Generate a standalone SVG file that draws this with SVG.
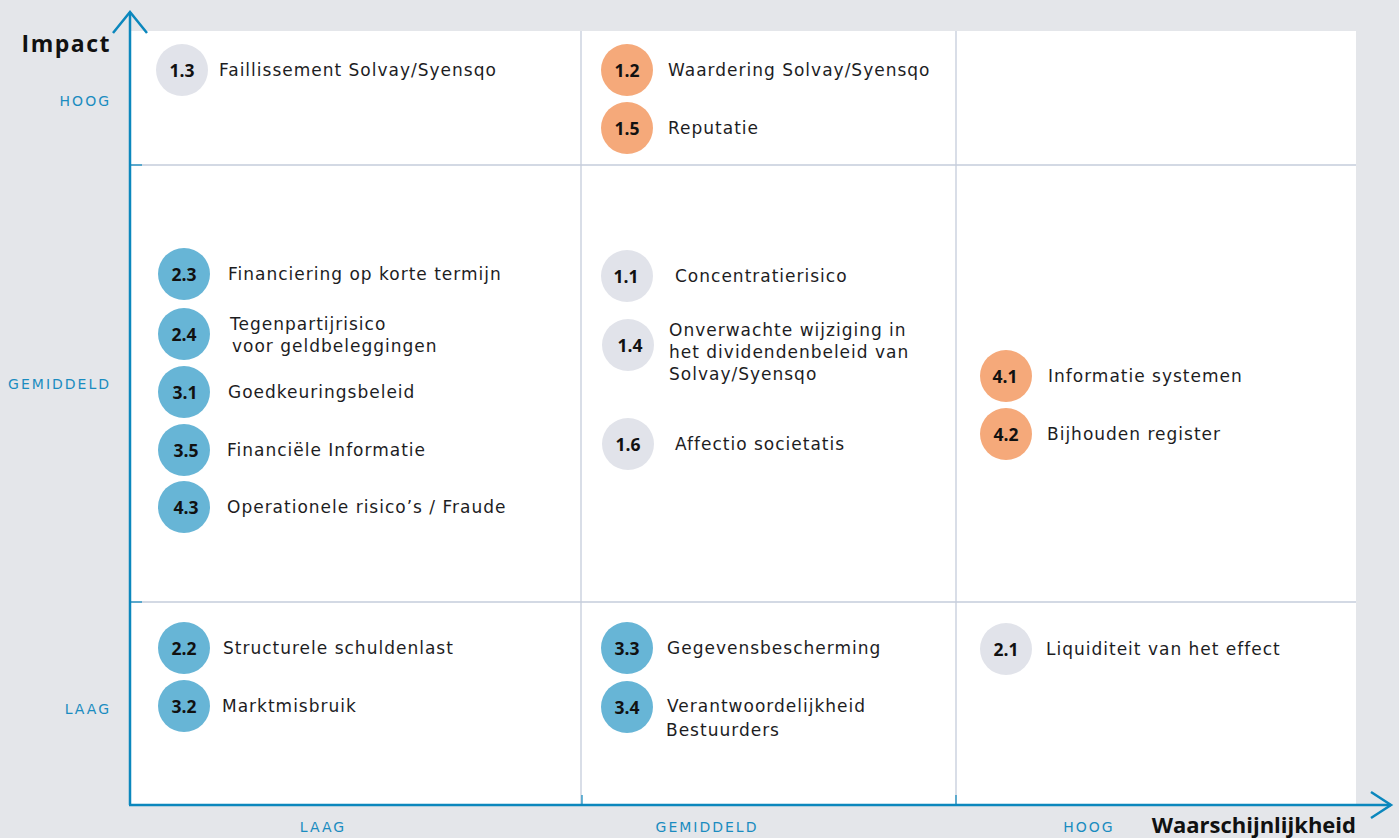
<svg xmlns="http://www.w3.org/2000/svg" width="1399" height="838" viewBox="0 0 1399 838">
<style>
.lbl{font-family:"DejaVu Sans","Open Sans",sans-serif;font-size:17px;letter-spacing:1px;fill:#1d1d1f;dominant-baseline:central}
.num{font-family:"Open Sans","Noto Sans",sans-serif;font-size:17.5px;font-weight:700;fill:#111;text-anchor:middle;dominant-baseline:central}
.ax{font-family:"DejaVu Sans","Open Sans",sans-serif;font-size:14px;letter-spacing:2px;fill:#1a8cc0;dominant-baseline:central}
.title{font-family:"Open Sans","Noto Sans",sans-serif;font-size:22px;font-weight:700;fill:#111;dominant-baseline:central}
.g{fill:#e1e3ea}.o{fill:#f5a97a}.b{fill:#67b5d6}
.grid{stroke:#c5ccdb;stroke-width:1.3;fill:none}
.axis{stroke:#0b87bd;stroke-width:2.5;fill:none}
</style>
<rect width="1399" height="838" fill="#e4e6ea"/>
<rect x="130" y="31" width="1226" height="774" fill="#fff"/>
<g id="grid">
<line class="grid" x1="581" y1="31" x2="581" y2="805"/>
<line class="grid" x1="956" y1="31" x2="956" y2="805"/>
<line class="grid" x1="130" y1="165" x2="1356" y2="165"/>
<line class="grid" x1="130" y1="602" x2="1356" y2="602"/>
</g>
<g id="axes">
<line class="axis" x1="130" y1="12" x2="130" y2="805"/>
<polyline class="axis" points="113,33 130,12 147,33"/>
<line class="axis" x1="129" y1="805" x2="1391" y2="805"/>
<polyline class="axis" points="1371,792 1391,805 1371,818"/>
<line stroke="#0b87bd" stroke-width="1.2" x1="130" y1="165" x2="142" y2="165"/>
<line stroke="#0b87bd" stroke-width="1.2" x1="130" y1="602" x2="142" y2="602"/>
<line stroke="#0b87bd" stroke-width="1.2" x1="582" y1="795" x2="582" y2="805"/>
<line stroke="#0b87bd" stroke-width="1.2" x1="956" y1="795" x2="956" y2="805"/>
<text class="title" x="111" y="43" text-anchor="end" style="letter-spacing:1.5px;font-size:23px">Impact</text>
<text class="ax" x="111" y="101" text-anchor="end">HOOG</text>
<text class="ax" x="111" y="384" text-anchor="end">GEMIDDELD</text>
<text class="ax" x="111" y="709" text-anchor="end">LAAG</text>
<text class="ax" x="323" y="827" text-anchor="middle">LAAG</text>
<text class="ax" x="707" y="827" text-anchor="middle">GEMIDDELD</text>
<text class="ax" x="1089" y="827" text-anchor="middle">HOOG</text>
<text class="title" x="1356" y="824" text-anchor="end">Waarschijnlijkheid</text>
</g>
<g id="n13"><ellipse class="g" cx="182" cy="70" rx="26" ry="26"/><text class="num" x="182" y="70">1.3</text><text class="lbl" x="219" y="70">Faillissement Solvay/Syensqo</text></g>
<g id="n12"><circle class="o" cx="627" cy="70" r="26"/><text class="num" x="627" y="70">1.2</text><text class="lbl" x="668" y="70">Waardering Solvay/Syensqo</text></g>
<g id="n15"><circle class="o" cx="627" cy="128" r="26"/><text class="num" x="627" y="128">1.5</text><text class="lbl" x="668" y="128">Reputatie</text></g>
<g id="n23"><circle class="b" cx="184" cy="274" r="26"/><text class="num" x="184" y="274">2.3</text><text class="lbl" x="228" y="274">Financiering op korte termijn</text></g>
<g id="n24"><circle class="b" cx="184" cy="334" r="26"/><text class="num" x="184" y="334">2.4</text><text class="lbl" x="230" y="324">Tegenpartijrisico</text><text class="lbl" x="232" y="346">voor geldbeleggingen</text></g>
<g id="n31"><circle class="b" cx="184" cy="392" r="26"/><text class="num" x="185" y="392">3.1</text><text class="lbl" x="228" y="392">Goedkeuringsbeleid</text></g>
<g id="n35"><circle class="b" cx="184" cy="450" r="26"/><text class="num" x="186" y="450">3.5</text><text class="lbl" x="227" y="450">Financiële Informatie</text></g>
<g id="n43"><circle class="b" cx="184" cy="507" r="26"/><text class="num" x="186" y="507">4.3</text><text class="lbl" x="227" y="507">Operationele risico’s / Fraude</text></g>
<g id="n11"><circle class="g" cx="627" cy="276" r="26"/><text class="num" x="626" y="276">1.1</text><text class="lbl" x="675" y="276">Concentratierisico</text></g>
<g id="n14"><circle class="g" cx="628" cy="345" r="26"/><text class="num" x="630" y="345">1.4</text><text class="lbl" x="669" y="330">Onverwachte wijziging in</text><text class="lbl" x="669" y="352">het dividendenbeleid van</text><text class="lbl" x="669" y="374">Solvay/Syensqo</text></g>
<g id="n16"><circle class="g" cx="628" cy="444" r="26"/><text class="num" x="628" y="444">1.6</text><text class="lbl" x="675" y="444">Affectio societatis</text></g>
<g id="n41"><circle class="o" cx="1006" cy="376" r="26"/><text class="num" x="1005" y="376">4.1</text><text class="lbl" x="1048" y="376">Informatie systemen</text></g>
<g id="n42"><circle class="o" cx="1006" cy="434" r="26"/><text class="num" x="1006" y="434">4.2</text><text class="lbl" x="1047" y="434">Bijhouden register</text></g>
<g id="n22"><ellipse class="b" cx="184" cy="648" rx="26" ry="26"/><text class="num" x="184" y="648">2.2</text><text class="lbl" x="223" y="648">Structurele schuldenlast</text></g>
<g id="n32"><ellipse class="b" cx="184" cy="706" rx="26" ry="26"/><text class="num" x="184" y="706">3.2</text><text class="lbl" x="222" y="706">Marktmisbruik</text></g>
<g id="n33"><circle class="b" cx="627" cy="648" r="26"/><text class="num" x="627" y="648">3.3</text><text class="lbl" x="667" y="648">Gegevensbescherming</text></g>
<g id="n34"><circle class="b" cx="627" cy="707" r="26"/><text class="num" x="627" y="707">3.4</text><text class="lbl" x="667" y="706">Verantwoordelijkheid</text><text class="lbl" x="666" y="730">Bestuurders</text></g>
<g id="n21"><circle class="g" cx="1006" cy="649" r="26"/><text class="num" x="1006" y="649">2.1</text><text class="lbl" x="1046" y="649">Liquiditeit van het effect</text></g>
</svg>
